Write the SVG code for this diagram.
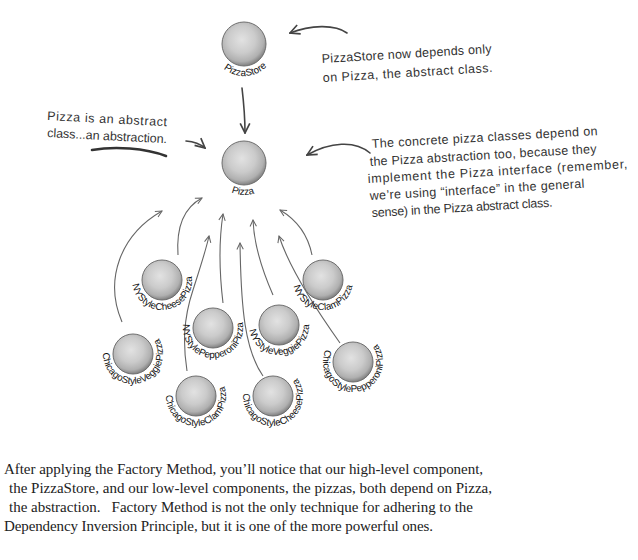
<svg xmlns="http://www.w3.org/2000/svg" xmlns:xlink="http://www.w3.org/1999/xlink" width="638" height="560" viewBox="0 0 638 560">
<style>
.ball{fill:url(#sphere);stroke:#6e6e6e;stroke-width:1}
.lbl{font-family:"Liberation Sans",Arial,sans-serif;font-size:9.8px;fill:#111}
.hand{font-family:"Liberation Sans",Arial,sans-serif;font-size:12.5px;fill:#333}
.conn{fill:none;stroke:#666;stroke-width:1.1}
.note{fill:none;stroke:#444;stroke-width:1.6;stroke-linecap:round}
.body{font-family:"Liberation Serif","Times New Roman",serif;font-size:15px;fill:#222}
</style>
<defs>
<radialGradient id="sphere" cx="45%" cy="40%" r="62%">
<stop offset="0" stop-color="#e2e2e2"/>
<stop offset="0.5" stop-color="#cbcbcb"/>
<stop offset="0.8" stop-color="#b0b0b0"/>
<stop offset="1" stop-color="#777"/>
</radialGradient>
<path id="ringS" d="M0,-30 A30,30 0 0 0 0,30 A30,30 0 0 0 0,-30"/>
<path id="ringL" d="M0,-32 A32,32 0 0 0 0,32 A32,32 0 0 0 0,-32"/>
<marker id="v" viewBox="0 0 10 10" refX="9" refY="5" markerWidth="8" markerHeight="8" markerUnits="userSpaceOnUse" orient="auto">
<path d="M1,1 L9,5 L1,9" fill="none" stroke="#666" stroke-width="1.3"/>
</marker>
<marker id="vn" viewBox="0 0 10 10" refX="9" refY="5" markerWidth="12" markerHeight="12" markerUnits="userSpaceOnUse" orient="auto">
<path d="M1,1 L9,5 L1,9" fill="none" stroke="#444" stroke-width="1.4"/>
</marker>
</defs>

<g id="connectors">
<path class="note" d="M242,88 C244,105 245,118 245,133" marker-end="url(#vn)"/>
<path class="conn" d="M122,322 C104,280 120,235 162,211" marker-end="url(#v)"/>
<path class="conn" d="M178,255 C176,225 185,207 202,198" marker-end="url(#v)"/>
<path class="conn" d="M187,371 C183,345 183,320 193,290 C200,268 206,250 209,236" marker-end="url(#v)"/>
<path class="conn" d="M223,303 C219,270 219,240 223,214" marker-end="url(#v)"/>
<path class="conn" d="M263,376 C245,350 241,310 240,243" marker-end="url(#v)"/>
<path class="conn" d="M273,295 C262,270 254,245 253,220" marker-end="url(#v)"/>
<path class="conn" d="M340,343 C318,312 290,270 279,236" marker-end="url(#v)"/>
<path class="conn" d="M312,255 C308,235 297,220 280,210" marker-end="url(#v)"/>
</g>

<g id="annotations">
<path class="note" d="M347,33 C335,24 310,25 290,33" marker-end="url(#vn)"/>
<path class="note" d="M186,141 Q198,142 205,148" marker-end="url(#vn)"/>
<path class="note" d="M370,153 C355,140 330,142 307,155" marker-end="url(#vn)"/>
<path d="M92,150 C115,146 145,148 166,156" fill="none" stroke="#333" stroke-width="2.6" stroke-linecap="round"/>
<text class="hand" x="322" y="63" textLength="170" transform="rotate(-3.4 322 63)">PizzaStore now depends only</text>
<text class="hand" x="323" y="82" textLength="170" transform="rotate(-3.4 323 82)">on Pizza, the abstract class.</text>
<text class="hand" x="47" y="120" textLength="120" transform="rotate(3 47 120)">Pizza is an abstract</text>
<text class="hand" x="47" y="137" textLength="120" transform="rotate(3 47 137)">class...an abstraction.</text>
<text class="hand" x="372" y="148" textLength="226" transform="rotate(-3.3 372 148)">The concrete pizza classes depend on</text>
<text class="hand" x="370" y="166" textLength="227" transform="rotate(-3.3 370 166)">the Pizza abstraction too, because they</text>
<text class="hand" x="368" y="183" textLength="260" transform="rotate(-3.3 368 183)">implement the Pizza interface (remember,</text>
<text class="hand" x="370" y="200" textLength="215" transform="rotate(-3.3 370 200)">we’re using “interface” in the general</text>
<text class="hand" x="372" y="217" textLength="181" transform="rotate(-3.3 372 217)">sense) in the Pizza abstract class.</text>
</g>

<g id="PizzaStore" transform="translate(244,44)">
<circle class="ball" r="22"/>
<text class="lbl" text-anchor="middle"><textPath href="#ringL" startOffset="50.8%">PizzaStore</textPath></text>
</g>
<g id="Pizza" transform="translate(244,163)">
<circle class="ball" r="22"/>
<text class="lbl" text-anchor="middle"><textPath href="#ringL" startOffset="49.4%">Pizza</textPath></text>
</g>
<g id="NYStyleCheesePizza" transform="translate(162,280)">
<circle class="ball" r="20"/>
<text class="lbl" text-anchor="middle"><textPath href="#ringS" startOffset="52.2%">NYStyleCheesePizza</textPath></text>
</g>
<g id="NYStyleClamPizza" transform="translate(323,280)">
<circle class="ball" r="20"/>
<text class="lbl" text-anchor="middle"><textPath href="#ringS" startOffset="50%">NYStyleClamPizza</textPath></text>
</g>
<g id="NYStylePepperoniPizza" transform="translate(213,328)">
<circle class="ball" r="20"/>
<text class="lbl" text-anchor="middle"><textPath href="#ringS" startOffset="50.5%">NYStylePepperoniPizza</textPath></text>
</g>
<g id="NYStyleVeggiePizza" transform="translate(279,325)">
<circle class="ball" r="20"/>
<text class="lbl" text-anchor="middle"><textPath href="#ringS" startOffset="51.4%">NYStyleVeggiePizza</textPath></text>
</g>
<g id="ChicagoStyleVeggiePizza" transform="translate(133,354)">
<circle class="ball" r="20"/>
<text class="lbl" text-anchor="middle"><textPath href="#ringS" startOffset="54%">ChicagoStyleVeggiePizza</textPath></text>
</g>
<g id="ChicagoStyleClamPizza" transform="translate(196,396)">
<circle class="ball" r="20"/>
<text class="lbl" text-anchor="middle"><textPath href="#ringS" startOffset="52.5%">ChicagoStyleClamPizza</textPath></text>
</g>
<g id="ChicagoStyleCheesePizza" transform="translate(273,396)">
<circle class="ball" r="20"/>
<text class="lbl" text-anchor="middle"><textPath href="#ringS" startOffset="54.4%">ChicagoStyleCheesePizza</textPath></text>
</g>
<g id="ChicagoStylePepperoniPizza" transform="translate(353,362)">
<circle class="ball" r="20"/>
<text class="lbl" text-anchor="middle"><textPath href="#ringS" startOffset="51.7%">ChicagoStylePepperoniPizza</textPath></text>
</g>

<g id="caption">
<text class="body" x="4" y="474" textLength="479">After applying the Factory Method, you’ll notice that our high-level component,</text>
<text class="body" x="9" y="493" textLength="483">the PizzaStore, and our low-level components, the pizzas, both depend on Pizza,</text>
<text class="body" x="9" y="512" textLength="464" xml:space="preserve">the abstraction.   Factory Method is not the only technique for adhering to the</text>
<text class="body" x="4" y="531" textLength="429">Dependency Inversion Principle, but it is one of the more powerful ones.</text>
</g>
</svg>
